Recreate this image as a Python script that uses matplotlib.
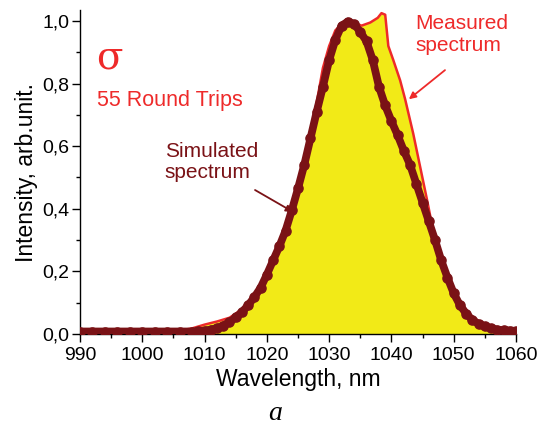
import matplotlib
matplotlib.use("Agg")
import matplotlib.pyplot as plt
from matplotlib.ticker import MultipleLocator, FuncFormatter

# Measured spectrum
meas_wl = [990, 995, 1000, 1005, 1006, 1008, 1010, 1012, 1014, 1015, 1016, 1017, 1018,
           1019, 1020, 1021, 1022, 1023, 1024, 1025, 1026, 1027, 1028, 1029, 1030, 1031,
           1032, 1033, 1034, 1035.2, 1036.6, 1037.8, 1038.4, 1039, 1039.5, 1040.3, 1041.4,
           1042.2, 1043.5, 1044.6, 1045.7, 1046.7, 1048.3, 1050.5, 1052.6, 1055, 1057, 1060]
meas_int = [0.010, 0.012, 0.010, 0.010, 0.011, 0.018, 0.030, 0.040, 0.052, 0.065, 0.080, 0.100, 0.125,
            0.155, 0.195, 0.240, 0.285, 0.340, 0.405, 0.475, 0.555, 0.640, 0.740, 0.850, 0.920, 0.970,
            0.990, 1.000, 0.995, 0.985, 0.995, 1.010, 1.025, 1.020, 0.920, 0.875, 0.810,
            0.750, 0.640, 0.535, 0.430, 0.330, 0.225, 0.120, 0.060, 0.027, 0.016, 0.012]

# Simulated spectrum
sim_wl = [990, 992, 994, 996, 998, 1000, 1002, 1004, 1006, 1008, 1009, 1010, 1011, 1012, 1013,
          1014, 1015, 1016, 1017, 1018, 1019, 1020, 1021, 1022, 1023, 1024, 1025, 1026, 1027,
          1028, 1029, 1030, 1031, 1032, 1033, 1034, 1035, 1036, 1037, 1038, 1039, 1040, 1041,
          1042, 1043, 1044, 1045, 1046, 1047, 1048, 1049, 1050, 1051, 1052, 1053, 1054, 1055,
          1056, 1057, 1058, 1059, 1060]
sim_int = [0.008, 0.008, 0.008, 0.008, 0.008, 0.008, 0.008, 0.008, 0.008, 0.008, 0.009, 0.011, 0.014,
           0.019, 0.027, 0.038, 0.053, 0.070, 0.092, 0.118, 0.148, 0.190, 0.235, 0.280, 0.330, 0.395,
           0.465, 0.540, 0.625, 0.710, 0.790, 0.875, 0.940, 0.985, 0.998, 0.990, 0.965, 0.935, 0.875,
           0.790, 0.730, 0.680, 0.635, 0.585, 0.540, 0.480, 0.420, 0.360, 0.300, 0.235, 0.180, 0.130,
           0.092, 0.065, 0.045, 0.032, 0.024, 0.018, 0.014, 0.012, 0.011, 0.010]

x_ticks = [990, 1000, 1010, 1020, 1030, 1040, 1050, 1060]
y_ticks = [0.0, 0.2, 0.4, 0.6, 0.8, 1.0]

RED = "#EE2A2A"
DARK = "#7A1216"
YELLOW = "#F2EA17"

plt.rcParams['font.family'] = ['Liberation Sans', 'DejaVu Sans']

fig = plt.figure(figsize=(5.45, 4.28), dpi=100)
ax = fig.add_axes([0.1468, 0.2196, 0.80, 0.757])

ax.fill_between(meas_wl, 0, meas_int, color=YELLOW, lw=0, zorder=1)
ax.plot(meas_wl, meas_int, color=RED, lw=1.8, zorder=2)
ax.plot(sim_wl, sim_int, color=DARK, lw=5.6, marker='o', ms=6.6, mec=DARK, mfc=DARK, zorder=3)

ax.set_xlim(990, 1060)
ax.set_ylim(0, 1.035)
ax.set_xticks(x_ticks)
ax.set_yticks(y_ticks)
ax.xaxis.set_minor_locator(MultipleLocator(5))
ax.yaxis.set_minor_locator(MultipleLocator(0.1))
ax.yaxis.set_major_formatter(FuncFormatter(lambda v, p: f"{v:.1f}".replace('.', ',')))
for s in ['top', 'right']:
    ax.spines[s].set_visible(False)
for s in ['left', 'bottom']:
    ax.spines[s].set_linewidth(1.0)
ax.tick_params(which='major', direction='out', length=5.5, width=1, labelsize=14)
ax.tick_params(axis='x', which='major', pad=3.5)
ax.tick_params(axis='y', which='major', pad=2)
ax.tick_params(which='minor', direction='out', length=3, width=1)

ax.set_xlabel("Wavelength, nm", fontsize=16.5, labelpad=3)
ax.set_ylabel("Intensity, arb.unit.", fontsize=16.5, labelpad=3)

ax.text(0.038, 0.852, "σ", transform=ax.transAxes, color=RED, fontsize=28,
        ha='left', va='center', family=['DejaVu Serif'])
ax.text(0.038, 0.722, "55 Round Trips", transform=ax.transAxes, color=RED, fontsize=15.5,
        ha='left', va='center')
ax.text(1043.8, 0.957, "Measured\nspectrum", color=RED, fontsize=15, ha='left', va='center',
        linespacing=1.15)
ax.text(1003.6, 0.55, "Simulated\nspectrum", color=DARK, fontsize=15, ha='left', va='center',
        linespacing=1.15)
ax.annotate("", xy=(1042.8, 0.75), xytext=(1048.6, 0.843),
            arrowprops=dict(arrowstyle='-|>', color=RED, lw=1.3, mutation_scale=10,
                            shrinkA=0, shrinkB=0))
ax.annotate("", xy=(1024.2, 0.39), xytext=(1018.1, 0.46),
            arrowprops=dict(arrowstyle='-|>', color=DARK, lw=1.3, mutation_scale=10,
                            shrinkA=0, shrinkB=0))

fig.text(0.505, 0.004, "a", fontsize=20, style='italic', family=['Liberation Serif'],
         ha='center', va='bottom')

fig.savefig("out.png", dpi=100)
